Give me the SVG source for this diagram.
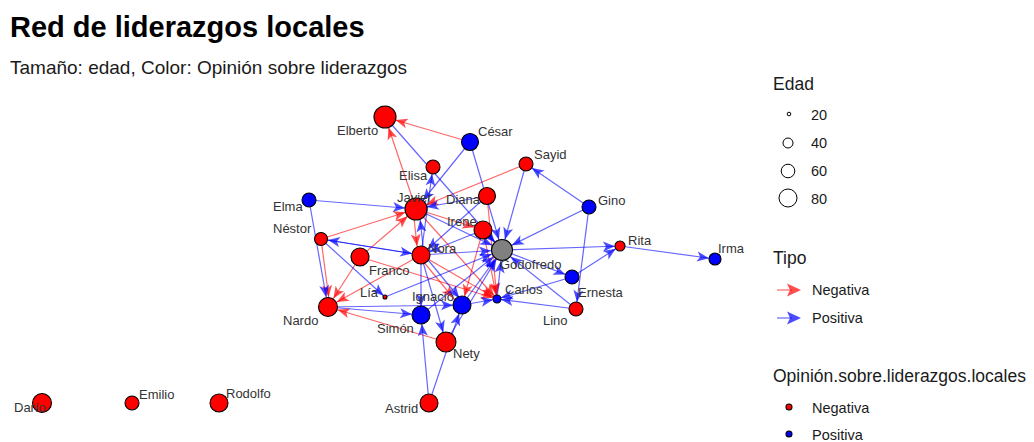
<svg xmlns="http://www.w3.org/2000/svg" width="1034" height="442" viewBox="0 0 1034 442">
<style>
text{font-family:"Liberation Sans",Arial,sans-serif;}
.title{font-size:29px;font-weight:bold;fill:#000;}
.sub{font-size:19px;fill:#1a1a1a;}
.lab{font-size:13px;fill:#333;}
.lt{font-size:17.5px;fill:#1a1a1a;}
.li{font-size:14.5px;fill:#1a1a1a;}
.neg{stroke:#FF0000;stroke-opacity:0.6;stroke-width:1.2;}
.pos{stroke:#0000FF;stroke-opacity:0.6;stroke-width:1.2;}
.ah-r{fill:#FF0000;fill-opacity:0.7;}
.ah-b{fill:#0000FF;fill-opacity:0.7;}
.nr{fill:#FF0000;stroke:#000;stroke-width:1.1;}
.nb{fill:#0000FF;stroke:#000;stroke-width:1.1;}
.ng{fill:#808080;stroke:#000;stroke-width:1.1;}
.leg{fill:#fff;stroke:#000;stroke-width:1;}
</style>
<defs>
<marker id="r4" markerUnits="userSpaceOnUse" markerWidth="30" markerHeight="10" refX="16" refY="5" orient="auto" overflow="visible"><path class="ah-r" d="M0,0 L12,5 L0,10 L3,5 z"/></marker>
<marker id="r9" markerUnits="userSpaceOnUse" markerWidth="30" markerHeight="10" refX="21" refY="5" orient="auto" overflow="visible"><path class="ah-r" d="M0,0 L12,5 L0,10 L3,5 z"/></marker>
<marker id="r10" markerUnits="userSpaceOnUse" markerWidth="30" markerHeight="10" refX="22" refY="5" orient="auto" overflow="visible"><path class="ah-r" d="M0,0 L12,5 L0,10 L3,5 z"/></marker>
<marker id="r11" markerUnits="userSpaceOnUse" markerWidth="30" markerHeight="10" refX="23" refY="5" orient="auto" overflow="visible"><path class="ah-r" d="M0,0 L12,5 L0,10 L3,5 z"/></marker>
<marker id="b2" markerUnits="userSpaceOnUse" markerWidth="30" markerHeight="10" refX="14" refY="5" orient="auto" overflow="visible"><path class="ah-b" d="M0,0 L12,5 L0,10 L3,5 z"/></marker>
<marker id="b4" markerUnits="userSpaceOnUse" markerWidth="30" markerHeight="10" refX="16" refY="5" orient="auto" overflow="visible"><path class="ah-b" d="M0,0 L12,5 L0,10 L3,5 z"/></marker>
<marker id="b5" markerUnits="userSpaceOnUse" markerWidth="30" markerHeight="10" refX="17" refY="5" orient="auto" overflow="visible"><path class="ah-b" d="M0,0 L12,5 L0,10 L3,5 z"/></marker>
<marker id="b6" markerUnits="userSpaceOnUse" markerWidth="30" markerHeight="10" refX="18" refY="5" orient="auto" overflow="visible"><path class="ah-b" d="M0,0 L12,5 L0,10 L3,5 z"/></marker>
<marker id="b7" markerUnits="userSpaceOnUse" markerWidth="30" markerHeight="10" refX="19" refY="5" orient="auto" overflow="visible"><path class="ah-b" d="M0,0 L12,5 L0,10 L3,5 z"/></marker>
<marker id="b9" markerUnits="userSpaceOnUse" markerWidth="30" markerHeight="10" refX="21" refY="5" orient="auto" overflow="visible"><path class="ah-b" d="M0,0 L12,5 L0,10 L3,5 z"/></marker>
<marker id="b10" markerUnits="userSpaceOnUse" markerWidth="30" markerHeight="10" refX="22" refY="5" orient="auto" overflow="visible"><path class="ah-b" d="M0,0 L12,5 L0,10 L3,5 z"/></marker>
<marker id="b11" markerUnits="userSpaceOnUse" markerWidth="30" markerHeight="10" refX="23" refY="5" orient="auto" overflow="visible"><path class="ah-b" d="M0,0 L12,5 L0,10 L3,5 z"/></marker>
</defs>
<rect width="1034" height="442" fill="#fff"/>
<text class="title" x="10" y="37">Red de liderazgos locales</text>
<text class="sub" x="10" y="74">Tamaño: edad, Color: Opinión sobre liderazgos</text>

<g id="connectors">
<line class="neg" x1="470" y1="142" x2="385" y2="117" marker-end="url(#r11)"/>
<line class="neg" x1="416" y1="209" x2="385" y2="117" marker-end="url(#r11)"/>
<line class="neg" x1="526" y1="164" x2="416" y2="209" marker-end="url(#r11)"/>
<line class="neg" x1="321" y1="239" x2="416" y2="209" marker-end="url(#r11)"/>
<line class="neg" x1="416" y1="209" x2="483" y2="230" marker-end="url(#r9)"/>
<line class="neg" x1="360" y1="257" x2="416" y2="209" marker-end="url(#r11)"/>
<line class="neg" x1="360" y1="257" x2="328" y2="307" marker-end="url(#r10)"/>
<line class="neg" x1="321" y1="239" x2="330" y2="307" marker-end="url(#r10)"/>
<line class="neg" x1="421" y1="255" x2="328" y2="307" marker-end="url(#r10)"/>
<line class="neg" x1="446" y1="342" x2="328" y2="307" marker-end="url(#r10)"/>
<line class="neg" x1="360" y1="257" x2="497" y2="299" marker-end="url(#r4)"/>
<line class="neg" x1="421" y1="255" x2="497" y2="299" marker-end="url(#r4)"/>
<line class="neg" x1="416" y1="209" x2="497" y2="299" marker-end="url(#r4)"/>
<line class="neg" x1="483" y1="230" x2="462" y2="305" marker-end="url(#r9)"/>
<line class="neg" x1="487" y1="196" x2="497" y2="299" marker-end="url(#r4)"/>
<line class="neg" x1="418" y1="255" x2="459" y2="305" marker-end="url(#r9)"/>
<line class="neg" x1="413" y1="209" x2="418" y2="255" marker-end="url(#r9)"/>
<line class="neg" x1="483" y1="230" x2="497" y2="299" marker-end="url(#r4)"/>

<line class="pos" x1="385" y1="117" x2="502" y2="250" marker-end="url(#b11)"/>
<line class="pos" x1="470" y1="142" x2="416" y2="209" marker-end="url(#b11)"/>
<line class="pos" x1="470" y1="142" x2="502" y2="250" marker-end="url(#b11)"/>
<line class="pos" x1="421" y1="255" x2="433" y2="167" marker-end="url(#b7)"/>
<line class="pos" x1="309" y1="200" x2="416" y2="209" marker-end="url(#b11)"/>
<line class="pos" x1="309" y1="200" x2="328" y2="307" marker-end="url(#b10)"/>
<line class="pos" x1="589" y1="207" x2="526" y2="164" marker-end="url(#b7)"/>
<line class="pos" x1="526" y1="164" x2="502" y2="250" marker-end="url(#b11)"/>
<line class="pos" x1="589" y1="207" x2="502" y2="250" marker-end="url(#b11)"/>
<line class="pos" x1="589" y1="207" x2="576" y2="309" marker-end="url(#b7)"/>
<line class="pos" x1="502" y1="250" x2="620" y2="246" marker-end="url(#b5)"/>
<line class="pos" x1="572" y1="277" x2="620" y2="246" marker-end="url(#b5)"/>
<line class="pos" x1="620" y1="246" x2="715" y2="259" marker-end="url(#b6)"/>
<line class="pos" x1="502" y1="250" x2="572" y2="277" marker-end="url(#b7)"/>
<line class="pos" x1="576" y1="309" x2="502" y2="250" marker-end="url(#b11)"/>
<line class="pos" x1="572" y1="277" x2="497" y2="299" marker-end="url(#b4)"/>
<line class="pos" x1="576" y1="309" x2="497" y2="299" marker-end="url(#b4)"/>
<line class="pos" x1="497" y1="299" x2="502" y2="250" marker-end="url(#b11)"/>
<line class="pos" x1="416" y1="209" x2="502" y2="250" marker-end="url(#b11)"/>
<line class="pos" x1="487" y1="196" x2="416" y2="209" marker-end="url(#b11)"/>
<line class="pos" x1="487" y1="196" x2="421" y2="255" marker-end="url(#b9)"/>
<line class="pos" x1="483" y1="230" x2="421" y2="255" marker-end="url(#b9)"/>
<line class="pos" x1="483" y1="230" x2="502" y2="250" marker-end="url(#b11)"/>
<line class="pos" x1="421" y1="255" x2="502" y2="250" marker-end="url(#b11)"/>
<line class="pos" x1="424" y1="255" x2="419" y2="209" marker-end="url(#b11)"/>
<line class="pos" x1="321" y1="239" x2="421" y2="255" marker-end="url(#b9)"/>
<line class="pos" x1="421" y1="255" x2="321" y2="239" marker-end="url(#b7)"/>
<line class="pos" x1="321" y1="239" x2="385" y2="297" marker-end="url(#b2)"/>
<line class="pos" x1="385" y1="297" x2="502" y2="250" marker-end="url(#b11)"/>
<line class="pos" x1="328" y1="307" x2="421" y2="315" marker-end="url(#b9)"/>
<line class="pos" x1="328" y1="307" x2="462" y2="305" marker-end="url(#b9)"/>
<line class="pos" x1="421" y1="255" x2="421" y2="315" marker-end="url(#b9)"/>
<line class="pos" x1="424" y1="255" x2="465" y2="305" marker-end="url(#b9)"/>
<line class="pos" x1="421" y1="255" x2="446" y2="342" marker-end="url(#b10)"/>
<line class="pos" x1="462" y1="305" x2="502" y2="250" marker-end="url(#b11)"/>
<line class="pos" x1="421" y1="315" x2="502" y2="250" marker-end="url(#b11)"/>
<line class="pos" x1="446" y1="342" x2="502" y2="250" marker-end="url(#b11)"/>
<line class="pos" x1="462" y1="305" x2="497" y2="299" marker-end="url(#b4)"/>
<line class="pos" x1="429" y1="403" x2="421" y2="315" marker-end="url(#b9)"/>
<line class="pos" x1="429" y1="403" x2="462" y2="305" marker-end="url(#b9)"/>
</g>

<g id="n-elberto"><circle class="nr" cx="385" cy="117" r="11"/><text class="lab" x="337" y="135">Elberto</text></g>
<g id="n-cesar"><circle class="nb" cx="470" cy="142" r="8.5"/><text class="lab" x="478" y="136">César</text></g>
<g id="n-sayid"><circle class="nr" cx="526" cy="164" r="7"/><text class="lab" x="534" y="159">Sayid</text></g>
<g id="n-elisa"><circle class="nr" cx="433" cy="167" r="7"/><text class="lab" x="399" y="180">Elisa</text></g>
<g id="n-elma"><circle class="nb" cx="309" cy="200" r="7"/><text class="lab" x="273" y="211">Elma</text></g>
<g id="n-javier"><circle class="nr" cx="416" cy="209" r="11"/><text class="lab" x="397" y="202">Javier</text></g>
<g id="n-diana"><circle class="nr" cx="487" cy="196" r="8.5"/><text class="lab" x="446" y="204">Diana</text></g>
<g id="n-gino"><circle class="nb" cx="589" cy="207" r="7"/><text class="lab" x="598" y="205">Gino</text></g>
<g id="n-irene"><circle class="nr" cx="483" cy="230" r="9"/><text class="lab" x="447" y="226">Irene</text></g>
<g id="n-nestor"><circle class="nr" cx="321" cy="239" r="6.5"/><text class="lab" x="273" y="233">Néstor</text></g>
<g id="n-godofredo"><circle class="ng" cx="502" cy="250" r="10.5"/><text class="lab" x="500" y="269">Godofredo</text></g>
<g id="n-rita"><circle class="nr" cx="620" cy="246" r="5"/><text class="lab" x="628" y="245">Rita</text></g>
<g id="n-irma"><circle class="nb" cx="715" cy="259" r="6"/><text class="lab" x="718" y="253">Irma</text></g>
<g id="n-nora"><circle class="nr" cx="421" cy="255" r="9"/><text class="lab" x="428" y="253">Nora</text></g>
<g id="n-franco"><circle class="nr" cx="360" cy="257" r="9"/><text class="lab" x="369" y="275">Franco</text></g>
<g id="n-ernesta"><circle class="nb" cx="572" cy="277" r="7"/><text class="lab" x="578" y="297">Ernesta</text></g>
<g id="n-lia"><circle class="nr" cx="385" cy="297" r="2"/><text class="lab" x="360" y="297">Lía</text></g>
<g id="n-carlos"><circle class="nb" cx="497" cy="299" r="4"/><text class="lab" x="505" y="294">Carlos</text></g>
<g id="n-ignacio"><circle class="nb" cx="462" cy="305" r="9"/><text class="lab" x="412" y="301">Ignacio</text></g>
<g id="n-nardo"><circle class="nr" cx="328" cy="307" r="9.5"/><text class="lab" x="283" y="325">Nardo</text></g>
<g id="n-lino"><circle class="nr" cx="576" cy="309" r="7"/><text class="lab" x="543" y="325">Lino</text></g>
<g id="n-simon"><circle class="nb" cx="421" cy="315" r="9"/><text class="lab" x="377" y="333">Simón</text></g>
<g id="n-nety"><circle class="nr" cx="446" cy="342" r="10"/><text class="lab" x="453" y="358">Nety</text></g>
<g id="n-astrid"><circle class="nr" cx="429" cy="403" r="9"/><text class="lab" x="385" y="413">Astrid</text></g>
<g id="n-dario"><circle class="nr" cx="42" cy="403" r="9.5"/><text class="lab" x="14" y="412">Darío</text></g>
<g id="n-emilio"><circle class="nr" cx="132" cy="403" r="7"/><text class="lab" x="139" y="399">Emilio</text></g>
<g id="n-rodolfo"><circle class="nr" cx="219" cy="403" r="9"/><text class="lab" x="226" y="398">Rodolfo</text></g>

<g id="legend">
<text class="lt" x="773" y="90">Edad</text>
<circle class="leg" cx="789" cy="114" r="1.8"/><text class="li" x="811" y="120">20</text>
<circle class="leg" cx="788" cy="143" r="5"/><text class="li" x="811" y="148">40</text>
<circle class="leg" cx="788" cy="171" r="6.8"/><text class="li" x="811" y="176">60</text>
<circle class="leg" cx="788" cy="198" r="9"/><text class="li" x="811" y="204">80</text>
<text class="lt" x="773" y="264">Tipo</text>
<line class="neg" x1="777" y1="290" x2="792" y2="290"/>
<path class="ah-r" d="M787,283.5 L801,290 L787,296.5 L790,290 z"/>
<text class="li" x="812" y="295">Negativa</text>
<line class="pos" x1="777" y1="318" x2="792" y2="318"/>
<path class="ah-b" d="M787,311.5 L801,318 L787,324.5 L790,318 z"/>
<text class="li" x="812" y="323">Positiva</text>
<text class="lt" x="773" y="382">Opinión.sobre.liderazgos.locales</text>
<circle class="nr" cx="789" cy="407" r="3" stroke-width="0.8"/><text class="li" x="812" y="413">Negativa</text>
<circle class="nb" cx="789" cy="434" r="3" stroke-width="0.8"/><text class="li" x="812" y="440">Positiva</text>
</g>
</svg>
